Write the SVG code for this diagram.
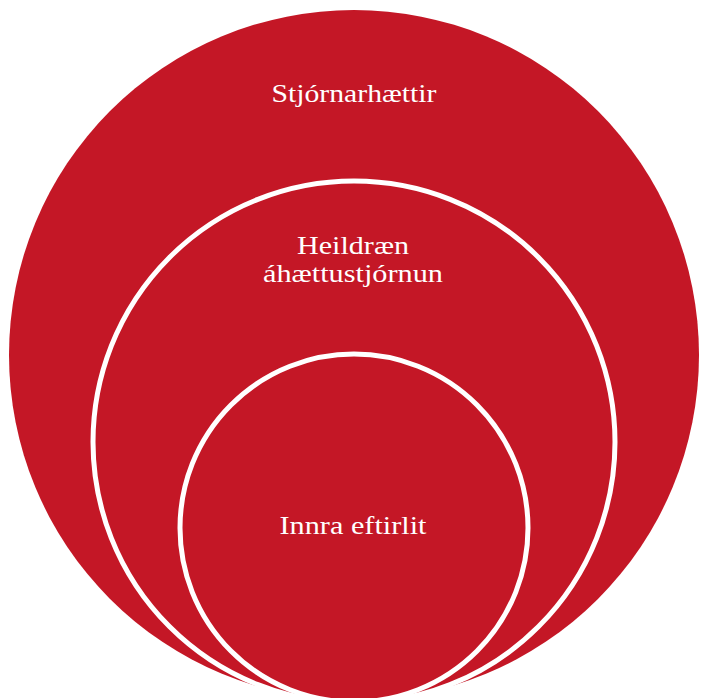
<svg xmlns="http://www.w3.org/2000/svg" width="702" height="698" viewBox="0 0 702 698">
<style>
.c{fill:#C41726;}
.r{fill:#C41726;stroke:#FFFFFF;stroke-width:5;}
.t{font-family:"Liberation Serif","Times New Roman",serif;font-size:26px;fill:#FFFFFF;text-anchor:middle;}
</style>
<rect width="702" height="698" fill="#FFFFFF"/>
<g id="node-stjornarhaettir">
<circle class="c" cx="354" cy="355" r="345"/>
<text class="t" x="354" y="102" textLength="165" lengthAdjust="spacingAndGlyphs">Stjórnarhættir</text>
</g>
<g id="node-heildraen">
<circle class="r" cx="354" cy="442" r="261"/>
<text class="t" x="353" y="254" textLength="112" lengthAdjust="spacingAndGlyphs">Heildræn</text>
<text class="t" x="353" y="282" textLength="180" lengthAdjust="spacingAndGlyphs">áhættustjórnun</text>
</g>
<g id="node-innra">
<circle class="r" cx="354" cy="528" r="174"/>
<text class="t" x="353" y="534" textLength="147" lengthAdjust="spacingAndGlyphs">Innra eftirlit</text>
</g>
<g id="connectors"></g>
</svg>
